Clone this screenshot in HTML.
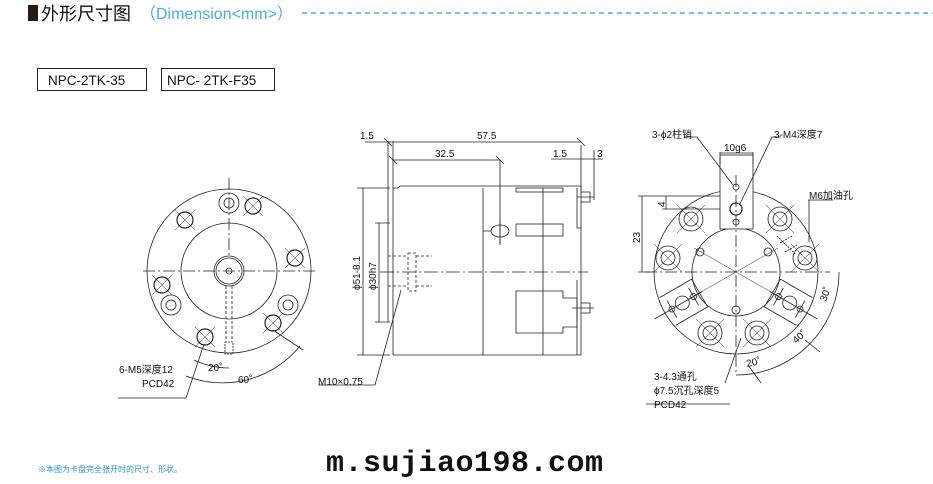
<!DOCTYPE html>
<html><head><meta charset="utf-8"><style>
body{margin:0;background:#fff;width:933px;height:484px;overflow:hidden}
svg{display:block}
text{font-family:"Liberation Sans","Noto Sans CJK SC",sans-serif;fill:#111}
</style></head><body>
<svg width="933" height="484" viewBox="0 0 933 484" xmlns="http://www.w3.org/2000/svg">
<!-- header -->
<rect x="28" y="5" width="10" height="16" fill="#2a1a14"/>
<text x="41" y="20" font-size="18" fill="#111">外形尺寸图</text>
<text x="140" y="19" font-size="16" style="fill:#4aaee0">（Dimension&lt;mm&gt;）</text>
<line x1="302" y1="13" x2="933" y2="13" stroke="#4aaee0" stroke-width="1.6" stroke-dasharray="5,4"/>
<rect x="37.5" y="68.5" width="109" height="22" fill="none" stroke="#222"/>
<text x="48" y="85" font-size="13.5">NPC-2TK-35</text>
<rect x="161.5" y="68.5" width="113" height="22" fill="none" stroke="#222"/>
<text x="167" y="85" font-size="13.5">NPC- 2TK-F35</text>

<g fill="none" stroke="#222" stroke-width="0.8">
<!-- LEFT VIEW -->
<circle cx="229" cy="271" r="82"/>
<circle cx="229" cy="271" r="48"/>
<circle cx="229" cy="271" r="15"/>
<circle cx="229" cy="271" r="13"/>
<circle cx="229" cy="271" r="3"/>
<line x1="143" y1="271" x2="318" y2="271" stroke-dasharray="12,3,2,3"/>
<line x1="229" y1="178" x2="229" y2="258" stroke-dasharray="12,3,2,3"/>
<circle cx="229" cy="203" r="10"/><circle cx="229" cy="203" r="5"/>
<circle cx="171" cy="305" r="10"/><circle cx="171" cy="305" r="5"/>
<circle cx="288" cy="305" r="10"/><circle cx="288" cy="305" r="5"/>
<g stroke-width="1.2">
<circle cx="253" cy="206" r="8"/><circle cx="185" cy="220" r="8"/><circle cx="295" cy="258" r="8"/>
<circle cx="162" cy="285" r="8"/><circle cx="273" cy="323" r="8"/><circle cx="205" cy="337" r="8"/>
</g>
<path d="M243 196l20 20M263 196l-20 20M175 210l20 20M195 210l-20 20M285 248l20 20M305 248l-20 20M152 275l20 20M172 275l-20 20M263 313l20 20M283 313l-20 20M195 327l20 20M215 327l-20 20" stroke-width="0.5"/>
<path d="M226 286v54M232 286v54" stroke-dasharray="3,2"/>
<rect x="225" y="342" width="8" height="12" stroke-dasharray="2,1"/>
<path d="M204 344L186 398H118"/>
<path d="M194 360A82 82 0 0 0 229 368" />
<path d="M186 376A100 100 0 0 0 300 346"/>
<path d="M273 330L303 350"/>

<!-- MIDDLE VIEW -->
<path d="M388 141V322M393 141V355"/>
<path d="M393 188H398L400 186H581V355H393"/>
<path d="M483 188V355M543 188V355"/>
<rect x="516" y="188" width="47" height="4"/>
<rect x="516" y="224" width="47" height="12"/>
<ellipse cx="500" cy="231" rx="9" ry="6"/>
<path d="M483 231H491M500 220V243"/>
<path d="M577 188V228H581M577 280V355"/>
<path d="M581 192H590V202H581M577 197H594M581 303H590V313H581M572 308H594"/>
<path d="M516 291H563V298H577V327H563V333H516Z"/>
<line x1="380" y1="272" x2="588" y2="272" stroke-dasharray="14,3,2,3"/>
<rect x="408" y="253" width="8" height="38" stroke-dasharray="3,2"/>
<path d="M388 256H408M388 286H408M416 256H432M416 286H432" stroke-dasharray="3,2"/>
<path d="M401 290L375 385H318"/>
<path d="M365 142H581M393 160H500M500 160V245M551 159H603M581 145V190M594 150V200"/>
<path d="M363 188V355M357 188H390M357 355H390M379 223V322M375 223H390M375 322H390"/>

<!-- RIGHT VIEW -->
<circle cx="736" cy="272" r="82"/>
<circle cx="736" cy="272" r="44"/>
<rect x="720" y="155" width="33" height="74" fill="#fff"/>
<path d="M720 152V164M753 152V164M720 153H753"/>
<circle cx="736" cy="187" r="3"/><circle cx="736" cy="209" r="6" stroke-width="1.2"/><circle cx="736" cy="222" r="3"/>
<line x1="736" y1="175" x2="736" y2="375" stroke-dasharray="12,3,2,3"/>
<line x1="645" y1="272" x2="830" y2="272" stroke-dasharray="12,3,2,3"/>
<path d="M694 248L778 296M778 248L694 296" stroke-width="0.5"/>
<g>
<circle cx="691" cy="219" r="12"/><circle cx="691" cy="219" r="7"/>
<circle cx="780" cy="219" r="12"/><circle cx="780" cy="219" r="7"/>
<circle cx="668" cy="258" r="12"/><circle cx="668" cy="258" r="7"/>
<circle cx="805" cy="258" r="12"/><circle cx="805" cy="258" r="7"/>
<circle cx="710" cy="333" r="12"/><circle cx="710" cy="333" r="7"/>
<circle cx="757" cy="333" r="12"/><circle cx="757" cy="333" r="7"/>
</g>
<path d="M677 205l28 28M705 205l-28 28M766 205l28 28M794 205l-28 28M654 244l28 28M682 244l-28 28M791 244l28 28M819 244l-28 28M696 319l28 28M724 319l-28 28M743 319l28 28M771 319l-28 28" stroke-width="0.5"/>
<circle cx="700" cy="252" r="4"/><circle cx="768" cy="252" r="4"/><circle cx="736" cy="310" r="4"/>
<g transform="rotate(150 736 272)">
<path d="M778 256H815M778 288H815M778 256V288" fill="#fff"/>
<circle cx="785" cy="272" r="3"/><circle cx="798" cy="272" r="7"/><circle cx="810" cy="272" r="3"/>
<path d="M785 262V282M810 262V282M775 272H830"/>
</g>
<g transform="rotate(30 736 272)">
<path d="M778 256H815M778 288H815M778 256V288" fill="#fff"/>
<circle cx="785" cy="272" r="3"/><circle cx="798" cy="272" r="7"/><circle cx="810" cy="272" r="3"/>
<path d="M785 262V282M810 262V282M775 272H830"/>
</g>
<path d="M780 243l12 -7M785 252l12 -7M777 236l18 18" stroke-dasharray="2,1"/>
<path d="M642 196V272M638 196H720M638 272H650M666 196V209M662 209H720"/>
<path d="M684 137H697L733 185M781 137H772L740 204M808 200H833M809 200V242"/>
<path d="M736 375A103 103 0 0 0 839 272M748 365L761 383M805 340L820 352"/>
<path d="M725 383L741 338M646 404H730"/>
</g>
<g stroke="#222" stroke-width="0.8"><path d="M384 138l8 8M577 138l8 8M389 156l8 8M496 156l8 8"/></g>

<!-- labels -->
<g font-size="10">
<text x="119" y="373">6-M5深度12</text>
<text x="142" y="387">PCD42</text>
<text x="208" y="371">20˚</text>
<text x="238" y="383">60˚</text>
<text x="360" y="139">1.5</text>
<text x="477" y="139">57.5</text>
<text x="435" y="157">32.5</text>
<text x="553" y="157">1.5</text>
<text x="597" y="157">3</text>
<text x="318" y="385">M10×0.75</text>
<text transform="translate(360 290) rotate(-90)">ϕ51-8.1</text>
<text transform="translate(376 290) rotate(-90)">ϕ30h7</text>
<text x="652" y="138">3-ϕ2柱销</text>
<text x="774" y="138">3-M4深度7</text>
<text x="724" y="151">10g6</text>
<text x="809" y="199">M6加油孔</text>
<text transform="translate(640 243) rotate(-90)">23</text>
<text transform="translate(665 207) rotate(-90)">4</text>
<text transform="translate(826 302) rotate(-70)">30˚</text>
<text transform="translate(796 344) rotate(-40)">40˚</text>
<text transform="translate(747 367) rotate(-12)">20˚</text>
<text x="654" y="380">3-4.3通孔</text>
<text x="654" y="394">ϕ7.5沉孔深度5</text>
<text x="654" y="408">PCD42</text>
</g>
<text x="38" y="472" font-size="8" style="fill:#2b8fd6">※本图为卡盘完全张开时的尺寸、形状。</text>
<text x="326" y="471" font-size="30" font-weight="bold" textLength="277" style="font-family:'Liberation Mono',monospace">m.sujiao198.com</text>
</svg>
</body></html>
